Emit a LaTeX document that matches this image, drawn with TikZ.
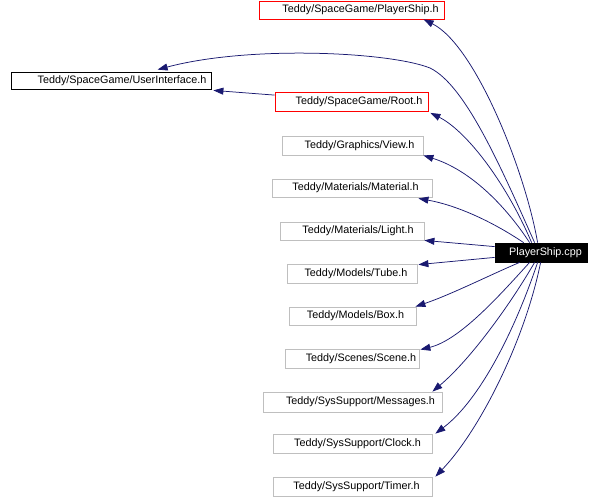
\documentclass[tikz,border=0pt]{standalone}
\usepackage{fontspec}
\setmainfont{Liberation Sans}
\usetikzlibrary{arrows.meta,calc}
\definecolor{edgeblue}{HTML}{191970}
\definecolor{boxgray}{HTML}{BFBFBF}
\begin{document}
\begin{tikzpicture}[x=1pt,y=-1pt,
  hbox/.style={draw=boxgray,line width=0.8pt,inner xsep=0pt,inner ysep=0pt,
    minimum height=19pt,text height=7.6pt,text depth=2.1pt,
    font=\fontsize{10.8}{12}\selectfont},
  redbox/.style={hbox,draw=red},
  blackbox/.style={hbox,draw=black},
  edge/.style={draw=edgeblue,line width=0.75pt,-{Triangle[length=10pt,width=7pt]}}]
\useasboundingbox (0,0) rectangle (602,498);
% nodes
\node[redbox,minimum width=185pt,minimum height=18pt] (psh) at (351.5,10) {\hspace*{18pt}Teddy/SpaceGame/PlayerShip.h};
\node[blackbox,minimum width=200pt,minimum height=17pt] (ui) at (111,80.5) {\hspace*{22pt}Teddy/SpaceGame/UserInterface.h};
\node[redbox,minimum width=153pt] (root) at (351.5,102) {\hspace*{15pt}Teddy/SpaceGame/Root.h};
\node[hbox,minimum width=141pt] (view) at (352.5,145.5) {\hspace*{14pt}Teddy/Graphics/View.h};
\node[hbox,minimum width=160pt,minimum height=18pt] (mat) at (352,188) {\hspace*{7pt}Teddy/Materials/Material.h};
\node[hbox,minimum width=144pt,minimum height=18pt] (light) at (352,231) {\hspace*{12pt}Teddy/Materials/Light.h};
\node[blackbox,fill=black,text=white,minimum width=92pt] (cpp) at (541,252.5) {\hspace*{9pt}PlayerShip.cpp};
\node[hbox,minimum width=130pt] (tube) at (352,273.5) {\hspace*{8pt}Teddy/Models/Tube.h};
\node[hbox,minimum width=127pt,minimum height=18pt] (boxh) at (352.5,316) {\hspace*{6pt}Teddy/Models/Box.h};
\node[hbox,minimum width=134pt] (scene) at (352,358.5) {\hspace*{18pt}Teddy/Scenes/Scene.h};
\node[hbox,minimum width=179pt,minimum height=20pt] (msg) at (352.5,402) {\hspace*{16pt}Teddy/SysSupport/Messages.h};
\node[hbox,minimum width=159pt] (clock) at (352.5,443.5) {\hspace*{10pt}Teddy/SysSupport/Clock.h};
\node[hbox,minimum width=159pt] (timer) at (352.5,486.5) {\hspace*{8pt}Teddy/SysSupport/Timer.h};
% edges
\draw[edge] ($(cpp.north west)+(43,0)$) .. controls (525,170) and (475,45) .. ($(psh.south west)+(165,0)$);
\draw[edge] ($(cpp.north west)+(40,0)$) .. controls (500,165) and (465,85) .. (430,68) .. controls (390,52) and (250,45) .. ($(ui.north west)+(147,-2)$);
\draw[edge] ($(cpp.north west)+(37,0)$) .. controls (505,180) and (465,130) .. ($(root.south east)+(2,1)$);
\draw[edge] ($(root.north west)+(0,3)$) -- ($(ui.south east)+(2,1)$);
\draw[edge] ($(cpp.north west)+(35,0)$) .. controls (505,205) and (470,170) .. (view.south east);
\draw[edge] ($(cpp.north west)+(29,0)$) .. controls (490,220) and (455,205) .. ($(mat.south east)+(-14,1)$);
\draw[edge] ($(cpp.north west)+(0,4)$) -- (light.south east);
\draw[edge] ($(cpp.south west)+(0,-5)$) -- ($(tube.north east)+(1,1)$);
\draw[edge] ($(cpp.south west)+(25,0)$) .. controls (490,275) and (450,295) .. ($(boxh.north east)+(-1,0)$);
\draw[edge] ($(cpp.south west)+(35,0)$) .. controls (500,295) and (460,340) .. ($(scene.north east)+(1,1)$);
\draw[edge] ($(cpp.south west)+(40,0)$) .. controls (510,305) and (470,360) .. ($(msg.north east)+(-10,0)$);
\draw[edge] ($(cpp.south west)+(43,0)$) .. controls (515,330) and (480,400) .. ($(clock.north east)+(3,0)$);
\draw[edge] ($(cpp.south west)+(46,0)$) .. controls (525,340) and (480,430) .. ($(timer.north east)+(3,0)$);
\end{tikzpicture}
\end{document}
